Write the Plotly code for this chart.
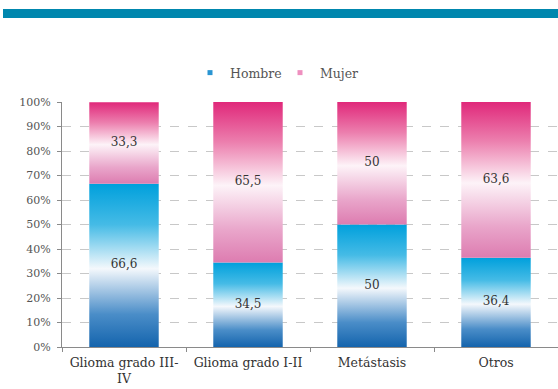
import plotly.graph_objects as go

# Tumour categories and percentage split by sex
categorias = ["Glioma grado III-<br>IV", "Glioma grado I-II", "Metástasis", "Otros"]
hombre = [66.6, 34.5, 50, 36.4]
mujer = [33.3, 65.5, 50, 63.6]
y_ticks = list(range(0, 101, 10))
y_ticktext = [f"{v}%" for v in y_ticks]

SERIF = "DejaVu Serif"
BAR_W = 0.56

grad_hombre = [[0.0, "#1464ad"], [0.2, "#4a8dc8"], [0.48, "#f4f8fc"],
               [0.75, "#45bbe6"], [1.0, "#00a0dc"]]
grad_mujer = [[0.0, "#dd7cb0"], [0.2, "#e9a5ca"], [0.48, "#fdf3f8"],
              [0.75, "#ec7fae"], [1.0, "#e0287a"]]


def fmt(v):
    return f"{v:g}".replace(".", ",")


fig = go.Figure()

series = [("Hombre", hombre, grad_hombre, "#2a95d2"),
          ("Mujer", mujer, grad_mujer, "#ee8fbf")]

bases = [0.0] * len(categorias)
label_x, label_y, label_t = [], [], []
for name, vals, grad, _ in series:
    for i, v in enumerate(vals):
        b = bases[i]
        x0, x1 = i - BAR_W / 2, i + BAR_W / 2
        fig.add_trace(go.Scatter(
            x=[x0, x1, x1, x0, x0], y=[b, b, b + v, b + v, b],
            mode="lines", fill="toself", line=dict(width=0),
            fillgradient=dict(type="vertical", colorscale=grad),
            hoverinfo="skip", showlegend=False,
        ))
        label_x.append(i)
        label_y.append(b + v / 2)
        label_t.append(fmt(v))
        bases[i] = b + v

# Value labels centred in each segment
fig.add_trace(go.Scatter(
    x=label_x, y=label_y, text=label_t, mode="text",
    textfont=dict(family=SERIF, size=12, color="#333"),
    hoverinfo="skip", showlegend=False,
))

# Legend entries
for name, _, _, col in series:
    fig.add_trace(go.Scatter(
        x=[None], y=[None], mode="markers", name=name,
        marker=dict(symbol="square", size=5, color=col),
    ))

fig.update_layout(
    width=558, height=389,
    margin=dict(l=62, r=0, t=102, b=42),
    paper_bgcolor="white", plot_bgcolor="white",
    showlegend=True,
    legend=dict(orientation="h", x=(190 - 62) / 496, xanchor="left",
                y=1 + (102 - 73) / 245, yanchor="middle",
                font=dict(family=SERIF, size=12.5, color="#555"),
                itemwidth=30, entrywidth=45, tracegroupgap=0),
    shapes=[dict(type="rect", xref="paper", yref="paper",
                 x0=(3 - 62) / 496, x1=1,
                 y0=1 + (102 - 18) / 245, y1=1 + (102 - 9) / 245,
                 fillcolor="#0087ae", line=dict(width=0))],
)

fig.update_xaxes(
    range=[-0.5, 3.5], tickmode="array", tickvals=list(range(len(categorias))),
    ticktext=categorias, ticks="", showgrid=False, zeroline=False,
    showline=True, linecolor="#8a8a8a", linewidth=1, ticklabelstandoff=4,
    tickfont=dict(family=SERIF, size=12.5, color="#333"),
    minor=dict(tickmode="array", tickvals=[-0.5, 0.5, 1.5, 2.5, 3.5],
               ticks="outside", ticklen=4, tickcolor="#8a8a8a", showgrid=False),
)
fig.update_yaxes(
    range=[0, 100], tickmode="array", tickvals=y_ticks, ticktext=y_ticktext,
    ticks="outside", ticklen=4, tickcolor="#8a8a8a",
    showline=True, linecolor="#8a8a8a", linewidth=1,
    showgrid=True, gridcolor="#c8c8c8", griddash="dash", gridwidth=1,
    zeroline=False, ticklabelstandoff=4,
    tickfont=dict(family=SERIF, size=11, color="#555"),
)

fig.write_html("out.html")
